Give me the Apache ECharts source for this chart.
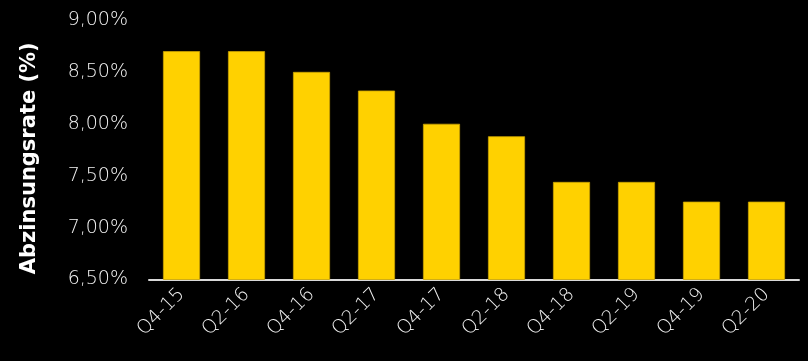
<!DOCTYPE html>
<html><head><meta charset="utf-8">
<script src="https://cdn.jsdelivr.net/npm/echarts@6/dist/echarts.min.js"></script>
<style>html,body{margin:0;padding:0;background:#000;}#c{width:808px;height:361px;}</style>
</head><body><div id="c"></div>
<script>
var categories = ['Q4-15','Q2-16','Q4-16','Q2-17','Q4-17','Q2-18','Q4-18','Q2-19','Q4-19','Q2-20'];
var rates = [8.70, 8.70, 8.50, 8.32, 8.00, 7.88, 7.44, 7.44, 7.25, 7.25];
var yTicks = {min: 6.5, max: 9.0, step: 0.5};
var yName = 'Abzinsungsrate (%)';

var chart = echarts.init(document.getElementById('c'), null, {renderer: 'canvas'});
chart.setOption({
  backgroundColor: '#000',
  animation: false,
  grid: {left: 149, right: 9, top: 20, bottom: 81.5, containLabel: false},
  xAxis: {
    type: 'category', data: categories,
    axisLine: {lineStyle: {color: '#d9d9d9', width: 2}},
    axisTick: {show: false},
    axisLabel: {rotate: 45, color: '#f2f2f2', fontSize: 19, fontWeight: 200, fontFamily: 'DejaVu Sans', margin: 12, interval: 0}
  },
  yAxis: {
    type: 'value', min: yTicks.min, max: yTicks.max, interval: yTicks.step,
    name: yName, nameLocation: 'middle', nameGap: 109,
    nameTextStyle: {color: '#fff', fontSize: 21, fontWeight: 'bold', fontFamily: 'DejaVu Sans', padding: [0, 17, 0, 0]},
    axisLine: {show: false}, axisTick: {show: false}, splitLine: {show: false},
    axisLabel: {color: '#f2f2f2', fontSize: 19, fontWeight: 200, fontFamily: 'DejaVu Sans', margin: 21,
      formatter: function(v){ return v.toFixed(2).replace('.', ',') + '%'; }}
  },
  series: [{
    type: 'bar', data: rates, barWidth: '57%',
    itemStyle: {color: '#FFD100', borderColor: '#C9A200', borderWidth: 0.8}
  }]
});
</script></body></html>
